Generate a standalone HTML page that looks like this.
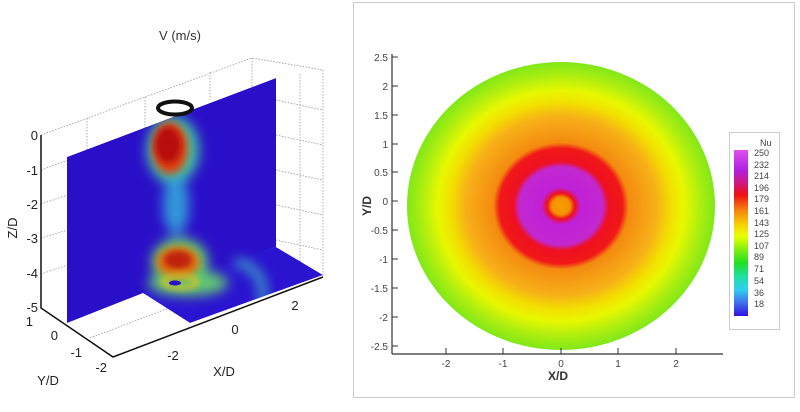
<!DOCTYPE html>
<html><head><meta charset="utf-8"><style>
body{margin:0;background:#fff;width:800px;height:407px;overflow:hidden;font-family:"Liberation Sans",sans-serif}
</style></head><body>
<svg width="800" height="407" viewBox="0 0 800 407" xmlns="http://www.w3.org/2000/svg" font-family="Liberation Sans, sans-serif">
<defs>
<filter id="b3"><feGaussianBlur stdDeviation="3"/></filter>
<filter id="b5"><feGaussianBlur stdDeviation="4"/></filter>
<filter id="b8"><feGaussianBlur stdDeviation="6"/></filter>
<clipPath id="pl"><polygon points="67,157 276,78 276,247 323,275 190,323 143,293 67,323"/></clipPath>
<radialGradient id="nu" cx="0.5" cy="0.5" r="0.5">
<stop offset="0" stop-color="#f5a000"/>
<stop offset="0.06" stop-color="#f59000"/>
<stop offset="0.09" stop-color="#ee1020"/>
<stop offset="0.13" stop-color="#c020d8"/>
<stop offset="0.27" stop-color="#c228d0"/>
<stop offset="0.31" stop-color="#ee1020"/>
<stop offset="0.4" stop-color="#f01818"/>
<stop offset="0.44" stop-color="#f48a10"/>
<stop offset="0.62" stop-color="#f7b018"/>
<stop offset="0.72" stop-color="#f2e000"/>
<stop offset="0.8" stop-color="#e8f800"/>
<stop offset="0.9" stop-color="#b0ee10"/>
<stop offset="1" stop-color="#80e818"/>
</radialGradient>
<linearGradient id="cb" x1="0" y1="0" x2="0" y2="1">
<stop offset="0" stop-color="#e050f0"/><stop offset="0.12" stop-color="#b020e0"/>
<stop offset="0.2" stop-color="#d01880"/><stop offset="0.27" stop-color="#f01010"/>
<stop offset="0.36" stop-color="#f58010"/><stop offset="0.45" stop-color="#f8d000"/>
<stop offset="0.52" stop-color="#e8ff00"/><stop offset="0.6" stop-color="#80f010"/>
<stop offset="0.68" stop-color="#20e020"/><stop offset="0.76" stop-color="#20e0a0"/>
<stop offset="0.84" stop-color="#30d0f0"/><stop offset="0.92" stop-color="#4070f0"/>
<stop offset="1" stop-color="#3010e0"/>
</linearGradient>
</defs>

<!-- LEFT PANEL -->
<text x="180" y="40" font-size="13" text-anchor="middle" fill="#333">V (m/s)</text>
<g stroke="#999" stroke-dasharray="1.5,1.5" fill="none" stroke-width="0.8">
<polyline points="41,135 252,58 323,70"/>
<line x1="252" y1="58" x2="252" y2="240"/>
<line x1="323" y1="70" x2="323" y2="277"/>
<line x1="87" y1="118" x2="87" y2="155"/>
<line x1="145" y1="97" x2="145" y2="130"/>
<line x1="210" y1="72" x2="210" y2="100"/>
<line x1="41" y1="170" x2="68" y2="160"/><line x1="41" y1="204" x2="68" y2="195"/>
<line x1="41" y1="238" x2="68" y2="230"/><line x1="41" y1="274" x2="68" y2="265"/>
<line x1="276" y1="100" x2="323" y2="110"/><line x1="276" y1="135" x2="323" y2="145"/>
<line x1="276" y1="170" x2="323" y2="180"/><line x1="276" y1="205" x2="323" y2="215"/>
<line x1="276" y1="240" x2="323" y2="250"/>
<line x1="300" y1="74" x2="300" y2="262"/>
<line x1="90" y1="338" x2="190" y2="300"/>
</g>
<g clip-path="url(#pl)">
<polygon points="67,157 276,78 276,247 67,323" fill="#2a0fc8"/>
<polygon points="143,293 276,247 323,275 190,323" fill="#2a14d0"/>
<g filter="url(#b8)">
<ellipse cx="173" cy="150" rx="26" ry="34" fill="#40c8a0"/>
<ellipse cx="176" cy="205" rx="13" ry="30" fill="#3098d8"/>
<ellipse cx="180" cy="262" rx="28" ry="24" fill="#60d070"/>
<ellipse cx="188" cy="283" rx="40" ry="13" fill="#60c870"/>
<path d="M235,262 Q268,268 262,305" stroke="#40c0c0" stroke-width="7" fill="none"/>
</g>
<g filter="url(#b5)">
<ellipse cx="170" cy="148" rx="18" ry="26" fill="#e04010"/>
<ellipse cx="178" cy="262" rx="22" ry="16" fill="#e07010"/>
</g>
<g filter="url(#b3)">
<ellipse cx="168" cy="145" rx="13" ry="18" fill="#b81010"/>
<ellipse cx="178" cy="260" rx="14" ry="9" fill="#c02010"/>
<ellipse cx="180" cy="282" rx="17" ry="6" fill="none" stroke="#d8c020" stroke-width="4"/>
</g>
<ellipse cx="175" cy="283" rx="6" ry="2.5" fill="#2a10c8"/>
</g>
<ellipse cx="175" cy="108" rx="17" ry="6.5" fill="none" stroke="#111" stroke-width="4"/>
<g stroke="#111" stroke-width="1.5" fill="none">
<polyline points="41,135 41,308 113,357 323,277"/>
</g>
<g font-size="13" fill="#222" text-anchor="end">
<text x="38" y="140">0</text><text x="38" y="175">-1</text><text x="38" y="209">-2</text>
<text x="38" y="243">-3</text><text x="38" y="278">-4</text><text x="38" y="312">-5</text>
<text x="33" y="326">1</text><text x="58" y="340">0</text><text x="82" y="357">-1</text><text x="107" y="372">-2</text>
</g>
<g font-size="13" fill="#222" text-anchor="middle">
<text x="173" y="360">-2</text><text x="235" y="334">0</text><text x="295" y="310">2</text>
<text x="224" y="376">X/D</text><text x="48" y="385">Y/D</text>
<text transform="translate(17,228) rotate(-90)">Z/D</text>
</g>

<!-- RIGHT PANEL -->
<rect x="353.5" y="2.5" width="441" height="395" fill="#fff" stroke="#ccc"/>
<ellipse cx="561" cy="206" rx="154" ry="144" fill="url(#nu)"/>
<g stroke="#333" stroke-width="1.2">
<line x1="392" y1="54" x2="392" y2="354"/><line x1="392" y1="354" x2="723" y2="354"/>
</g>
<g stroke="#333" stroke-width="1">
<line x1="392" y1="57" x2="398" y2="57"/><line x1="392" y1="86" x2="398" y2="86"/>
<line x1="392" y1="115" x2="398" y2="115"/><line x1="392" y1="144" x2="398" y2="144"/>
<line x1="392" y1="172" x2="398" y2="172"/><line x1="392" y1="201" x2="398" y2="201"/>
<line x1="392" y1="230" x2="398" y2="230"/><line x1="392" y1="259" x2="398" y2="259"/>
<line x1="392" y1="288" x2="398" y2="288"/><line x1="392" y1="317" x2="398" y2="317"/>
<line x1="392" y1="346" x2="398" y2="346"/>
<line x1="446" y1="348" x2="446" y2="354"/><line x1="503" y1="348" x2="503" y2="354"/>
<line x1="561" y1="348" x2="561" y2="354"/><line x1="618" y1="348" x2="618" y2="354"/>
<line x1="676" y1="348" x2="676" y2="354"/>
</g>
<g font-size="10" fill="#444" text-anchor="end">
<text x="388" y="61">2.5</text><text x="388" y="90">2</text><text x="388" y="119">1.5</text>
<text x="388" y="148">1</text><text x="388" y="176">0.5</text><text x="388" y="205">0</text>
<text x="388" y="234">-0.5</text><text x="388" y="263">-1</text><text x="388" y="292">-1.5</text>
<text x="388" y="321">-2</text><text x="388" y="350">-2.5</text>
</g>
<g font-size="10" fill="#444" text-anchor="middle">
<text x="446" y="367">-2</text><text x="503" y="367">-1</text><text x="561" y="367">0</text>
<text x="618" y="367">1</text><text x="676" y="367">2</text>
</g>
<text x="558" y="380" font-size="12" font-weight="bold" fill="#333" text-anchor="middle">X/D</text>
<text transform="translate(371,206) rotate(-90)" font-size="12" font-weight="bold" fill="#333" text-anchor="middle">Y/D</text>
<rect x="729.5" y="132.5" width="50" height="197" fill="#fff" stroke="#ccc"/>
<rect x="734" y="150" width="14" height="166" fill="url(#cb)"/>
<g font-size="9" fill="#444">
<text x="760" y="146">Nu</text>
<text x="754" y="156">250</text><text x="754" y="168">232</text><text x="754" y="179">214</text>
<text x="754" y="191">196</text><text x="754" y="202">179</text><text x="754" y="214">161</text>
<text x="754" y="226">143</text><text x="754" y="237">125</text><text x="754" y="249">107</text>
<text x="754" y="260">89</text><text x="754" y="272">71</text><text x="754" y="284">54</text>
<text x="754" y="296">36</text><text x="754" y="307">18</text>
</g>
</svg>
</body></html>
